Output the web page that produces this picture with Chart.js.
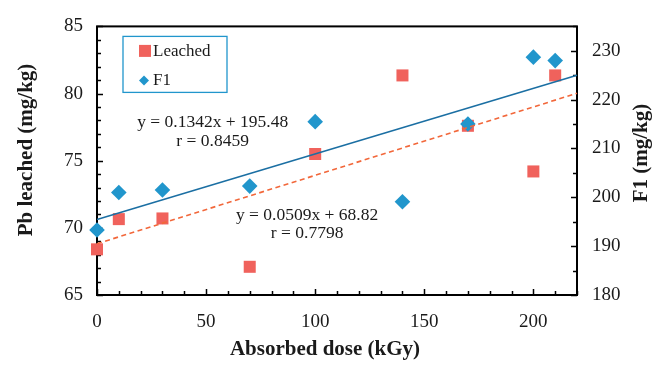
<!DOCTYPE html>
<html>
<head>
<meta charset="utf-8">
<script src="https://cdn.jsdelivr.net/npm/chart.js@4.4.0/dist/chart.umd.min.js"></script>
<style>
  html, body { margin: 0; padding: 0; background: #fff; }
  #wrap { width: 664px; height: 365px; }
</style>
</head>
<body>
<div id="wrap"><canvas id="c"></canvas></div>
<script>
// values
const doses = [0, 10, 30, 70, 100, 140, 170, 200, 210];
const leached = [68.4, 70.65, 70.7, 67.1, 75.5, 81.35, 77.6, 74.2, 81.35];
const f1 = [193.3, 201.0, 201.5, 202.3, 215.5, 199.1, 215.0, 228.7, 228.0];

// trendline end points (x = 0 and x = 220)
const trendX = [0, 220];
const trendLeached = [68.82, 80.02];
const trendF1 = [195.48, 225.0];

const xTicks = [0, 50, 100, 150, 200];
const leftTicks = [65, 70, 75, 80, 85];
const rightTicks = [180, 190, 200, 210, 220, 230];

const RED = '#f0625c';
const BLUE = '#2196cc';
const FONT = '"Liberation Serif", "Times New Roman", serif';

const pts = (xs, ys) => xs.map((x, i) => ({ x, y: ys[i] }));

// frame, inner tick marks, titles, legend and equations
const decor = {
  id: 'decor',
  beforeDatasetsDraw(chart) {
    const { ctx, chartArea: a, scales } = chart;
    ctx.save();
    ctx.strokeStyle = '#000';
    ctx.lineWidth = 2;
    ctx.strokeRect(a.left, a.top, a.right - a.left, a.bottom - a.top);

    ctx.lineWidth = 1.5;
    ctx.beginPath();
    for (let v = 0; v <= 220; v += 10) {
      const px = Math.round(scales.x.getPixelForValue(v)) + 0.5;
      const len = v % 50 === 0 ? 6 : 4;
      ctx.moveTo(px, a.bottom);
      ctx.lineTo(px, a.bottom - len);
    }
    for (let v = 65; v <= 85; v += 1) {
      const py = Math.round(scales.y.getPixelForValue(v)) + 0.5;
      const len = v % 5 === 0 ? 6 : 4;
      ctx.moveTo(a.left, py);
      ctx.lineTo(a.left + len, py);
    }
    for (let v = 180; v <= 235; v += 5) {
      const py = Math.round(scales.y1.getPixelForValue(v)) + 0.5;
      const len = v % 10 === 0 ? 6 : 4;
      ctx.moveTo(a.right, py);
      ctx.lineTo(a.right - len, py);
    }
    ctx.stroke();
    ctx.restore();
  },
  afterDraw(chart) {
    const { ctx, chartArea: a, scales } = chart;
    ctx.save();
    ctx.fillStyle = '#1a1a1a';

    // axis titles
    ctx.font = 'bold 21px ' + FONT;
    ctx.textAlign = 'center';
    ctx.textBaseline = 'middle';
    ctx.fillText('Absorbed dose (kGy)', 325, 350);
    ctx.save();
    ctx.translate(27, 150);
    ctx.rotate(-Math.PI / 2);
    ctx.fillText('Pb leached (mg/kg)', 0, 0);
    ctx.restore();
    ctx.save();
    ctx.translate(642, 153);
    ctx.rotate(-Math.PI / 2);
    ctx.fillText('F1 (mg/kg)', 0, 0);
    ctx.restore();

    // equations
    ctx.font = '17.5px ' + FONT;
    const ex1 = scales.x.getPixelForValue(53);
    ctx.fillText('y = 0.1342x + 195.48', ex1, scales.y.getPixelForValue(77.85));
    ctx.fillText('r = 0.8459', ex1, scales.y.getPixelForValue(76.45));
    const ex2 = scales.x.getPixelForValue(96.3);
    ctx.fillText('y = 0.0509x + 68.82', ex2, scales.y.getPixelForValue(70.95));
    ctx.fillText('r = 0.7798', ex2, scales.y.getPixelForValue(69.57));

    // legend box
    const lx = a.left + 26, ly = a.top + 10;
    ctx.strokeStyle = BLUE;
    ctx.lineWidth = 1.3;
    ctx.strokeRect(lx, ly, 104, 56);
    ctx.fillStyle = RED;
    ctx.fillRect(lx + 16, ly + 8.5, 12, 12);
    ctx.fillStyle = BLUE;
    ctx.beginPath();
    const dx = lx + 21, dy = ly + 44;
    ctx.moveTo(dx - 5, dy);
    ctx.lineTo(dx, dy - 5);
    ctx.lineTo(dx + 5, dy);
    ctx.lineTo(dx, dy + 5);
    ctx.closePath();
    ctx.fill();
    ctx.fillStyle = '#1a1a1a';
    ctx.font = '17px ' + FONT;
    ctx.textAlign = 'left';
    ctx.fillText('Leached', lx + 30, ly + 15);
    ctx.fillText('F1', lx + 30, ly + 44);
    ctx.restore();
  }
};

const fixSize = (w, h) => (scale) => {
  if (w != null) scale.width = w;
  if (h != null) scale.height = h;
};

const tickFont = { family: FONT, size: 19 };

new Chart(document.getElementById('c'), {
  type: 'scatter',
  data: {
    datasets: [
      {
        label: 'F1 trend',
        type: 'line',
        data: pts(trendX, trendF1),
        yAxisID: 'y1',
        borderColor: '#1b6fa3',
        borderWidth: 1.6,
        pointRadius: 0,
        fill: false,
        clip: false
      },
      {
        label: 'Leached trend',
        type: 'line',
        data: pts(trendX, trendLeached),
        yAxisID: 'y',
        borderColor: '#f2673a',
        borderWidth: 1.6,
        borderDash: [5, 3.5],
        pointRadius: 0,
        fill: false,
        clip: false
      },
      {
        label: 'F1',
        data: pts(doses, f1),
        yAxisID: 'y1',
        pointStyle: 'rectRot',
        pointRadius: 7.8,
        pointBackgroundColor: BLUE,
        pointBorderColor: BLUE,
        pointBorderWidth: 0,
        clip: false
      },
      {
        label: 'Leached',
        data: pts(doses, leached),
        yAxisID: 'y',
        pointStyle: 'rect',
        pointRadius: 8.5,
        pointBackgroundColor: RED,
        pointBorderColor: RED,
        pointBorderWidth: 0,
        clip: false
      }
    ]
  },
  options: {
    responsive: true,
    maintainAspectRatio: false,
    animation: false,
    layout: { padding: { top: 15, right: 0, bottom: 0, left: 0 }, autoPadding: false },
    plugins: { legend: { display: false }, tooltip: { enabled: false } },
    scales: {
      x: {
        type: 'linear',
        min: 0,
        max: 220,
        afterBuildTicks: (s) => { s.ticks = xTicks.map(v => ({ value: v })); },
        afterFit: fixSize(null, 70),
        grid: { display: false, drawTicks: false },
        border: { display: false },
        ticks: { padding: 16, color: '#1a1a1a', font: tickFont }
      },
      y: {
        type: 'linear',
        position: 'left',
        min: 65,
        max: 85,
        afterBuildTicks: (s) => { s.ticks = leftTicks.map(v => ({ value: v })); },
        afterFit: fixSize(97, null),
        grid: { display: false, drawTicks: false },
        border: { display: false },
        ticks: { padding: 14, color: '#1a1a1a', font: tickFont }
      },
      y1: {
        type: 'linear',
        position: 'right',
        min: 180,
        max: 235,
        afterBuildTicks: (s) => { s.ticks = rightTicks.map(v => ({ value: v })); },
        afterFit: fixSize(87, null),
        grid: { display: false, drawTicks: false },
        border: { display: false },
        ticks: { padding: 15, color: '#1a1a1a', font: tickFont }
      }
    }
  },
  plugins: [decor]
});
</script>
</body>
</html>
